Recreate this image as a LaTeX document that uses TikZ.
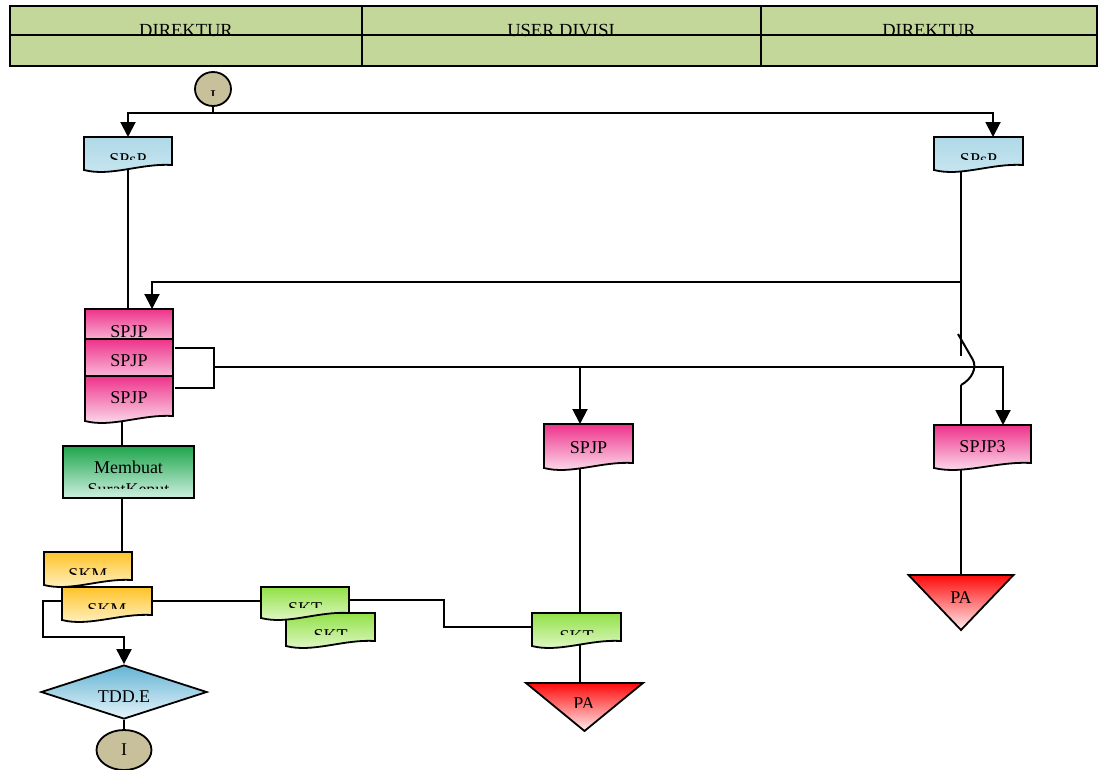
\documentclass[tikz,border=0pt]{standalone}
\usepackage{fontspec}
\setmainfont{Liberation Serif}
\usetikzlibrary{shapes.geometric,arrows.meta,backgrounds,calc}

\definecolor{hdr}{RGB}{196,215,155}
\definecolor{pinkTop}{RGB}{238,50,138}
\definecolor{pinkBot}{RGB}{252,234,244}
\definecolor{blueTop}{RGB}{176,216,230}
\definecolor{blueBot}{RGB}{200,232,242}
\definecolor{grnTop}{RGB}{30,165,75}
\definecolor{grnBot}{RGB}{205,240,225}
\definecolor{ylwTop}{RGB}{255,195,40}
\definecolor{ylwBot}{RGB}{255,246,212}
\definecolor{limeTop}{RGB}{145,225,70}
\definecolor{limeBot}{RGB}{234,250,214}
\definecolor{redTop}{RGB}{255,10,10}
\definecolor{redBot}{RGB}{255,236,238}
\definecolor{skyTop}{RGB}{100,180,212}
\definecolor{skyBot}{RGB}{230,244,250}
\definecolor{khaki}{RGB}{200,192,155}

\tikzset{
  flow/.style={draw=black, line width=2},
  arr/.style={flow, -{Triangle[length=15pt,width=15pt]}},
  outline/.style={draw=black, line width=1.8},
  pinkdoc/.style={outline, top color=pinkTop, bottom color=pinkBot},
  bluedoc/.style={outline, top color=blueTop, bottom color=blueBot},
  yellowdoc/.style={outline, top color=ylwTop, bottom color=ylwBot},
  limedoc/.style={outline, top color=limeTop, bottom color=limeBot},
  redtri/.style={outline, top color=redTop, bottom color=redBot},
  holder/.style={rectangle, draw=none, inner sep=0pt, outer sep=0pt},
  lbl/.style={anchor=base, inner sep=0pt, font=\fontsize{18}{21}\selectfont},
  hdrlbl/.style={lbl, font=\fontsize{18.5}{21}\selectfont},
  connector/.style={ellipse, draw=black, line width=1.8, fill=khaki, inner sep=0pt},
}

% document symbol: flat top, wavy bottom; #5 is the bottom of the right edge
\newcommand\docshape[6]{%
  \path[#6] (#2,#3) -- (#4,#3) -- (#4,#5)
    .. controls ({#4-0.35*(#4-#2)},{#5-2}) and ({#2+0.3*(#4-#2)},{#5+12}) .. (#2,{#5+5}) -- cycle;
  \node[holder, minimum width={#4-#2}, minimum height={#5-#3}] (#1) at ({(#2+#4)/2},{(#3+#5)/2}) {};
}
% label whose lower part is cut off at height #4
\newcommand\cutlabel[5]{%
  \begin{scope}
    \clip (0,0) rectangle (1099,#4);
    \node[lbl] (#1) at (#2,#3) {#5};
  \end{scope}
}

\begin{document}
\begin{tikzpicture}[x=1pt,y=-1pt]
\useasboundingbox (0,0) rectangle (1099,769);

% swimlane header
\path[fill=hdr] (10,6) rectangle (1097,66);
\node[hdrlbl] (hd1) at (186,36) {DIREKTUR};
\node[hdrlbl] (hd2) at (561,36) {USER DIVISI};
\node[hdrlbl] (hd3) at (929,36) {DIREKTUR};
\draw[line width=2] (10,6) rectangle (1097,66)
  (10,35) -- (1097,35) (362,6) -- (362,66) (761,6) -- (761,66);

% start connector
\node[connector, minimum width=36, minimum height=34] (start) at (213,89) {};
\cutlabel{startT}{213}{102}{95}{I}

% SPsP documents
\docshape{spsp1}{84}{137}{172}{165}{bluedoc}
\cutlabel{spsp1T}{128}{165}{159}{SPsP}
\docshape{spsp2}{934}{137}{1023}{165}{bluedoc}
\cutlabel{spsp2T}{978.5}{165}{159}{SPsP}

% stacked SPJP documents
\docshape{spjpA}{85}{309}{173}{341}{pinkdoc}
\node[lbl] (spjpAT) at (129,337) {SPJP};
\docshape{spjpB}{85}{339}{173}{378}{pinkdoc}
\node[lbl] (spjpBT) at (129,366) {SPJP};
\docshape{spjpC}{85}{376}{173}{416}{pinkdoc}
\node[lbl] (spjpCT) at (129,403) {SPJP};

% process box
\node[rectangle, draw=black, line width=1.8, top color=grnTop, bottom color=grnBot,
      minimum width=131, minimum height=52, inner sep=0pt] (mem) at (128.5,472) {};
\node[lbl] (memT1) at (128.5,473) {Membuat};
\cutlabel{memT2}{128.5}{495}{488}{SuratKeput}

% SPJP copies
\docshape{spjpM}{544}{424}{633}{463}{pinkdoc}
\node[lbl] (spjpMT) at (588.5,453) {SPJP};
\docshape{spjp3}{934}{425}{1031}{463}{pinkdoc}
\node[lbl] (spjp3T) at (982.5,452) {SPJP3};

% SKM documents
\docshape{skmA}{44}{552}{132}{580}{yellowdoc}
\cutlabel{skmAT}{88}{580}{574}{SKM}
\docshape{skmB}{62}{587}{152}{615}{yellowdoc}
\cutlabel{skmBT}{107}{615}{608}{SKM}

% SKT documents
\docshape{sktB}{286}{613}{375}{641}{limedoc}
\cutlabel{sktBT}{330.5}{641}{634}{SKT}
\docshape{sktA}{261}{587}{349}{613}{limedoc}
\cutlabel{sktAT}{305}{614}{607}{SKT}
\docshape{sktC}{532}{613}{621}{641}{limedoc}
\cutlabel{sktCT}{576.5}{642}{634}{SKT}

% archives
\node[holder, minimum width=117, minimum height=48] (paM) at (584.5,707) {};
\path[redtri] (paM.north west) -- (paM.north east) -- (paM.south) -- cycle;
\cutlabel{paMT}{584}{709}{707}{PA}
\node[holder, minimum width=105, minimum height=55] (paR) at (961,602.5) {};
\path[redtri] (paR.north west) -- (paR.north east) -- (paR.south) -- cycle;
\node[lbl] (paRT) at (961,603) {PA};

% decision and end connector
\node[diamond, aspect=3, draw=black, line width=1.8, top color=skyTop, bottom color=skyBot,
      minimum width=166, minimum height=54, inner sep=0pt] (tdd) at (124,692) {};
\node[lbl] (tddT) at (124,702) {TDD.E};
\node[connector, minimum width=55, minimum height=40, font=\fontsize{18}{21}\selectfont] (endc) at (124,750) {I};

% flow lines, kept behind the symbols
\begin{pgfonlayer}{background}
  \coordinate (split) at (213,113);
  \coordinate (inR) at (993,137);
  \coordinate (riseR) at (961,282);
  \coordinate (inA) at (152,309);
  \coordinate (hopTop) at (961,356);
  \coordinate (hopA) at (958,334);
  \coordinate (hopB) at (961,385);
  \coordinate (brA) at (175,348);
  \coordinate (brB) at (175,388);
  \coordinate (brM) at (214,367);
  \coordinate (inM) at (580,424);
  \coordinate (in3) at (1003,425);
  \coordinate (xL) at (122,0);
  \coordinate (xK) at (444,0);
  \coordinate (xM) at (580,0);
  \coordinate (bendL) at (43,637);

  \draw[flow] (start) -- (split);
  \draw[arr] (split) -| (spsp1.north);
  \draw[arr] (split) -| (inR);
  \draw[flow] (spsp1) -- (spsp1 |- spjpA.north);
  \draw[flow] (spsp2.center -| riseR) -- (hopTop);
  \draw[arr] (riseR) -| (inA);
  \draw[flow] (hopA) -- (973,360) .. controls (977,368) and (972,379) .. (hopB);
  \draw[flow] (hopB) -- (paR.north);
  \draw[flow] (brA) -| (brM) |- (brB);
  \draw[arr] (brM) -| (in3);
  \draw[arr] (brM -| inM) -- (inM);
  \draw[flow] (spjpC.center -| xL) -- (mem.north -| xL);
  \draw[flow] (mem.center -| xL) -- (skmA.north -| xL);
  \draw[flow] (skmB) -- (skmB -| sktA);
  \draw[flow] (sktA) -- (sktA -| xK) |- (sktC);
  \draw[arr] (skmB) -| (bendL) -| (tdd.north);
  \draw[flow] (tdd) -- (endc);
  \draw[flow] (spjpM.center -| xM) -- (paM.north -| xM);
\end{pgfonlayer}
\end{tikzpicture}
\end{document}
